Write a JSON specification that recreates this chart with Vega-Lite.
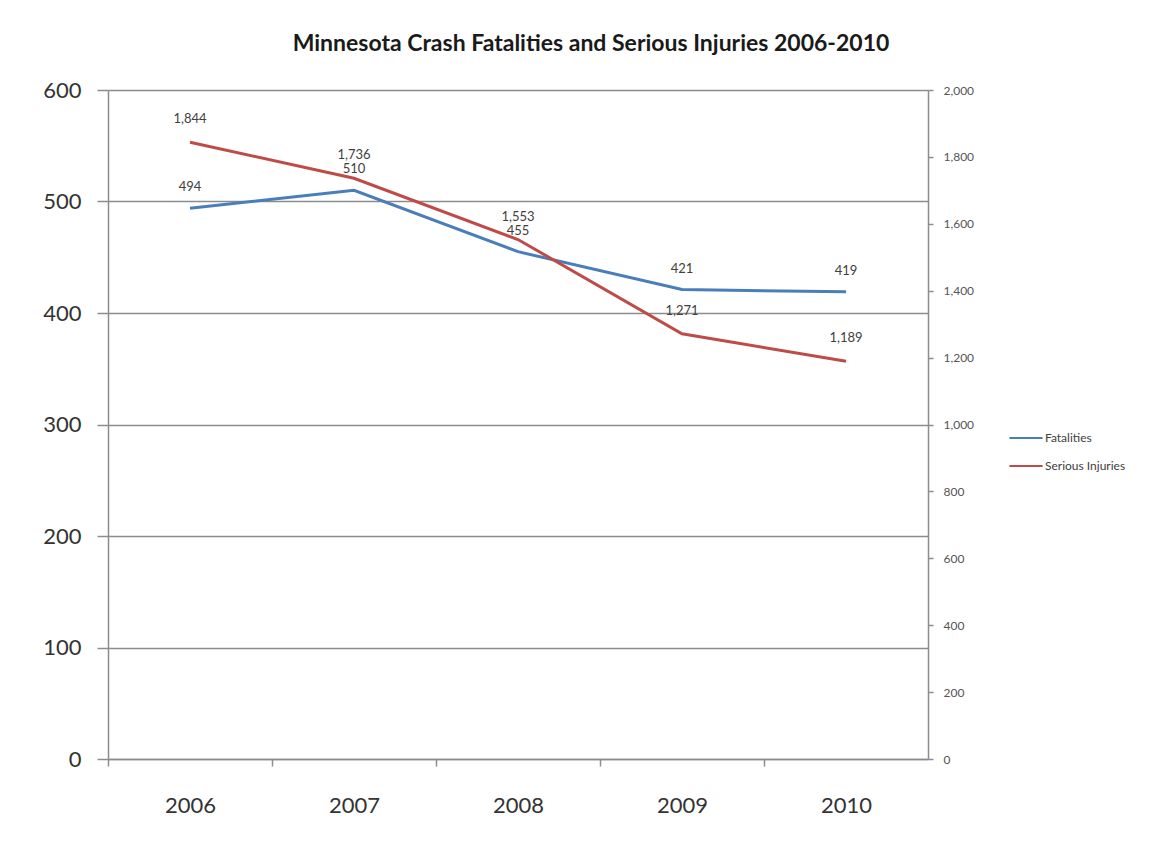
{
  "$schema": "https://vega.github.io/schema/vega-lite/v6.json",
  "description": "Minnesota crash fatalities (left axis) and serious injuries (right axis), 2006-2010.",
  "width": 820,
  "height": 669,
  "autosize": {"type": "none"},
  "padding": {"left": 108, "top": 90, "right": 239, "bottom": 84},
  "background": "white",
  "title": {
    "text": "Minnesota Crash Fatalities and Serious Injuries 2006-2010",
    "font": "Lato",
    "fontSize": 23,
    "fontWeight": "bold",
    "color": "#1a1a1a",
    "anchor": "middle",
    "dx": 73,
    "offset": 23
  },
  "config": {
    "view": {"stroke": null},
    "text": {"font": "Lato"}
  },
  "data": {
    "values": [
      {"Year": 2006, "Series": "Fatalities", "Value": 494},
      {"Year": 2007, "Series": "Fatalities", "Value": 510},
      {"Year": 2008, "Series": "Fatalities", "Value": 455},
      {"Year": 2009, "Series": "Fatalities", "Value": 421},
      {"Year": 2010, "Series": "Fatalities", "Value": 419},
      {"Year": 2006, "Series": "Serious Injuries", "Value": 1844},
      {"Year": 2007, "Series": "Serious Injuries", "Value": 1736},
      {"Year": 2008, "Series": "Serious Injuries", "Value": 1553},
      {"Year": 2009, "Series": "Serious Injuries", "Value": 1271},
      {"Year": 2010, "Series": "Serious Injuries", "Value": 1189}
    ]
  },
  "layer": [
    {
      "transform": [{"filter": "datum.Series === 'Fatalities'"}],
      "mark": {"type": "line", "strokeWidth": 3},
      "encoding": {
        "x": {
          "field": "Year",
          "type": "quantitative",
          "scale": {"domain": [2005.5, 2010.5], "nice": false, "zero": false},
          "axis": {
            "orient": "bottom",
            "values": [2006, 2007, 2008, 2009, 2010],
            "format": "d",
            "ticks": false,
            "domain": false,
            "grid": false,
            "title": null,
            "labelFont": "Lato",
            "labelFontSize": 22,
            "labelColor": "#333333",
            "labelPadding": 36
          }
        },
        "y": {
          "field": "Value",
          "type": "quantitative",
          "scale": {"domain": [0, 600], "nice": false},
          "axis": {
            "orient": "left",
            "values": [0, 100, 200, 300, 400, 500, 600],
            "title": null,
            "grid": true,
            "gridColor": "#8c8c8c",
            "gridWidth": 1.5,
            "domainColor": "#8c8c8c",
            "domainWidth": 1.5,
            "tickColor": "#8c8c8c",
            "tickWidth": 1.5,
            "tickSize": 11,
            "labelFont": "Lato",
            "labelFontSize": 22,
            "labelColor": "#333333",
            "labelPadding": 16
          }
        },
        "color": {
          "field": "Series",
          "type": "nominal",
          "scale": {"domain": ["Fatalities", "Serious Injuries"], "range": ["#4a7ebb", "#be4b48"]},
          "legend": {
            "orient": "none",
            "legendX": 900,
            "legendY": 330,
            "title": null,
            "symbolType": "stroke",
            "symbolSize": 1100,
            "symbolStrokeWidth": 2,
            "labelFont": "Lato",
            "labelFontSize": 12,
            "labelColor": "#404040",
            "labelOffset": 1,
            "rowPadding": 4
          }
        }
      }
    },
    {
      "transform": [{"filter": "datum.Series === 'Fatalities'"}],
      "mark": {"type": "text", "dy": -21, "fontSize": 13, "color": "#404040"},
      "encoding": {
        "x": {"field": "Year", "type": "quantitative", "axis": null},
        "y": {"field": "Value", "type": "quantitative", "scale": {"domain": [0, 600], "nice": false}, "axis": null},
        "text": {"field": "Value", "type": "quantitative", "format": ",d"}
      }
    },
    {
      "transform": [{"filter": "datum.Series === 'Serious Injuries'"}],
      "mark": {"type": "line", "strokeWidth": 3},
      "encoding": {
        "x": {
          "field": "Year",
          "type": "quantitative",
          "axis": {
            "orient": "bottom",
            "values": [2005.5, 2006.5, 2007.5, 2008.5, 2009.5],
            "labels": false,
            "grid": false,
            "title": null,
            "domainColor": "#8c8c8c",
            "domainWidth": 1.5,
            "tickColor": "#8c8c8c",
            "tickWidth": 1.5,
            "tickSize": 7
          }
        },
        "y": {
          "field": "Value",
          "type": "quantitative",
          "scale": {"domain": [0, 2000], "nice": false},
          "axis": {
            "orient": "right",
            "values": [0, 200, 400, 600, 800, 1000, 1200, 1400, 1600, 1800, 2000],
            "format": ",d",
            "title": null,
            "grid": false,
            "domainColor": "#8c8c8c",
            "domainWidth": 1.5,
            "tickColor": "#8c8c8c",
            "tickWidth": 1.5,
            "tickSize": 5,
            "labelFont": "Lato",
            "labelFontSize": 12,
            "labelColor": "#555555",
            "labelPadding": 10
          }
        },
        "color": {"field": "Series", "type": "nominal"}
      }
    },
    {
      "transform": [{"filter": "datum.Series === 'Serious Injuries'"}],
      "mark": {"type": "text", "dy": -23, "fontSize": 13, "color": "#404040"},
      "encoding": {
        "x": {"field": "Year", "type": "quantitative", "axis": null},
        "y": {"field": "Value", "type": "quantitative", "scale": {"domain": [0, 2000], "nice": false}, "axis": null},
        "text": {"field": "Value", "type": "quantitative", "format": ",d"}
      }
    }
  ],
  "resolve": {
    "scale": {"y": "independent"},
    "axis": {"x": "independent", "y": "independent"}
  }
}
